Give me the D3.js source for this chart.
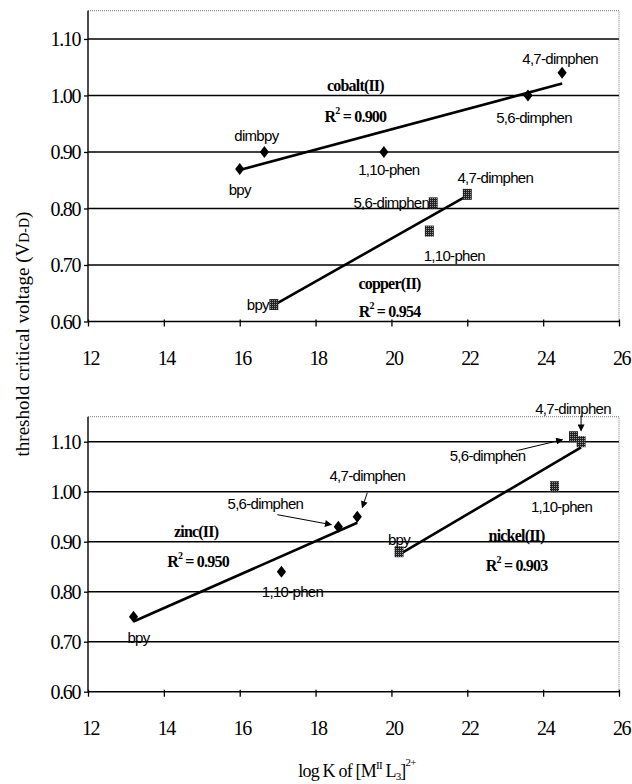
<!DOCTYPE html>
<html>
<head>
<meta charset="utf-8">
<script src="https://cdn.jsdelivr.net/npm/d3@7"></script>
<style>
  body { margin: 0; background: #fff; }
  svg { display: block; }
  .lbl { font-family: "Liberation Sans", Arial, sans-serif; font-size: 15px; letter-spacing: -0.7px; }
  .ser { font-family: "Liberation Serif", "Times New Roman", serif; font-weight: bold; font-size: 16px; letter-spacing: -0.8px; }
</style>
</head>
<body>
<div id="chart"></div>
<script>
// data
var xTicks = [12, 14, 16, 18, 20, 22, 24, 26];
var yTicks = [0.60, 0.70, 0.80, 0.90, 1.00, 1.10];

var cobaltLigands = ["bpy", "dimbpy", "1,10-phen", "5,6-dimphen", "4,7-dimphen"];
var cobaltLogK = [16.0, 16.65, 19.8, 23.6, 24.5];
var cobaltV = [0.87, 0.90, 0.90, 1.00, 1.04];

var copperLigands = ["bpy", "5,6-dimphen", "1,10-phen", "4,7-dimphen"];
var copperLogK = [16.9, 21.1, 21.0, 22.0];
var copperV = [0.63, 0.81, 0.76, 0.825];

var zincLigands = ["bpy", "1,10-phen", "5,6-dimphen", "4,7-dimphen"];
var zincLogK = [13.2, 17.1, 18.6, 19.1];
var zincV = [0.75, 0.84, 0.93, 0.95];

var nickelLigands = ["bpy", "1,10-phen", "5,6-dimphen", "4,7-dimphen"];
var nickelLogK = [20.2, 24.3, 24.8, 25.0];
var nickelV = [0.88, 1.01, 1.11, 1.10];

var seriesNames = ["cobalt(II)", "copper(II)", "zinc(II)", "nickel(II)"];
var rSquared = ["0.900", "0.954", "0.950", "0.903"];

// layout (pixel offsets of the labels, not data)
var labelPos = {
  "cobalt(II)": { name: [19.05, 91], r2: [19.05, 122],
    pts: { "bpy": [0, 26, "middle"], "dimbpy": [-8, -11, "middle"], "1,10-phen": [5, 23, "middle"],
           "5,6-dimphen": [6, 28, "middle"], "4,7-dimphen": [-2, -9, "middle"] } },
  "copper(II)": { name: [19.95, 289], r2: [19.95, 317],
    pts: { "bpy": [-5, 5, "end"], "5,6-dimphen": [-4, 5, "end"], "1,10-phen": [25, 30, "middle"],
           "4,7-dimphen": [28, -11, "middle"] } },
  "zinc(II)": { name: [14.85, 537], r2: [14.9, 567],
    pts: { "bpy": [5, 26, "middle"], "1,10-phen": [11, 25, "middle"], "5,6-dimphen": [-73, -18, "middle"],
           "4,7-dimphen": [10, -36, "middle"] },
    arrows: { "5,6-dimphen": [-61, -12, -7, -2], "4,7-dimphen": [10, -24, 5, -9] } },
  "nickel(II)": { name: [23.3, 541], r2: [23.3, 571],
    pts: { "bpy": [0, -7, "middle"], "1,10-phen": [7, 25, "middle"], "5,6-dimphen": [-86, 24, "middle"],
           "4,7-dimphen": [-8, -28, "middle"] },
    arrows: { "5,6-dimphen": [-57, 14, -11, 3], "4,7-dimphen": [0, -26, 0, -11] } }
};

var serif = "'Liberation Serif', 'Times New Roman', serif";
var W = 632, H = 784;
var svg = d3.select("#chart").append("svg").attr("width", W).attr("height", H);

var defs = svg.append("defs");
var pat = defs.append("pattern").attr("id", "dots").attr("width", 2).attr("height", 2)
  .attr("patternUnits", "userSpaceOnUse");
pat.append("rect").attr("width", 2).attr("height", 2).attr("fill", "#222");
pat.append("rect").attr("width", 1).attr("height", 1).attr("fill", "#999");
defs.append("marker").attr("id", "arrow").attr("viewBox", "0 0 10 10")
  .attr("refX", 9).attr("refY", 5).attr("markerWidth", 9).attr("markerHeight", 7)
  .attr("markerUnits", "userSpaceOnUse").attr("orient", "auto")
  .append("path").attr("d", "M0,0 L10,5 L0,10 Z").attr("fill", "#000");

var x = d3.scaleLinear().domain([12, 26]).range([88, 619]);

var panels = [
  { top: 10.7, bottom: 321.5, series: [
      { name: seriesNames[0], r2: rSquared[0], lig: cobaltLigands, k: cobaltLogK, v: cobaltV, shape: "diamond" },
      { name: seriesNames[1], r2: rSquared[1], lig: copperLigands, k: copperLogK, v: copperV, shape: "square" } ] },
  { top: 416.7, bottom: 691.7, series: [
      { name: seriesNames[2], r2: rSquared[2], lig: zincLigands, k: zincLogK, v: zincV, shape: "diamond" },
      { name: seriesNames[3], r2: rSquared[3], lig: nickelLigands, k: nickelLogK, v: nickelV, shape: "square" } ] }
];

function fit(k, v) {
  var mx = d3.mean(k), my = d3.mean(v);
  var sxy = d3.sum(k, function (d, i) { return (d - mx) * (v[i] - my); });
  var sxx = d3.sum(k, function (d) { return (d - mx) * (d - mx); });
  var b = sxy / sxx;
  return function (t) { return my + b * (t - mx); };
}

panels.forEach(function (p) {
  var y = d3.scaleLinear().domain([0.6, 1.15]).range([p.bottom, p.top]);
  var g = svg.append("g");

  // gridlines
  g.selectAll(".grid").data(yTicks.slice(1)).enter().append("line")
    .attr("x1", x(12)).attr("x2", x(26))
    .attr("y1", function (d) { return y(d); }).attr("y2", function (d) { return y(d); })
    .attr("stroke", "#000").attr("stroke-width", 1.4);

  // dotted frame top / right
  g.append("path")
    .attr("d", "M" + x(12) + "," + p.top + "H" + x(26) + "V" + p.bottom)
    .attr("fill", "none").attr("stroke", "#777").attr("stroke-width", 1)
    .attr("stroke-dasharray", "1,1");

  // y axis
  var ya = g.append("g").attr("transform", "translate(" + x(12) + ",0)")
    .call(d3.axisLeft(y).tickValues(yTicks).tickFormat(d3.format(".2f")).tickSize(4).tickPadding(4))
    .attr("font-family", serif);
  ya.select(".domain").attr("d", "M0," + p.top + "V" + p.bottom).attr("stroke", "#000").attr("stroke-width", 1.4);
  ya.selectAll(".tick line").attr("stroke", "#000").attr("stroke-width", 1.3);
  ya.selectAll(".tick text").attr("font-size", 20).attr("fill", "#000")
    .style("font-family", serif).style("letter-spacing", "-1.4px").attr("dy", "0.34em");

  // x axis
  var xa = g.append("g").attr("transform", "translate(0," + p.bottom + ")")
    .call(d3.axisBottom(x).tickValues(xTicks).tickSize(5).tickPadding(0))
    .attr("font-family", serif);
  xa.select(".domain").attr("d", "M" + x(12) + ",0H" + x(26)).attr("stroke", "#000").attr("stroke-width", 1.6);
  xa.selectAll(".tick line").attr("stroke", "#000").attr("stroke-width", 1.3).attr("y1", -2);
  xa.selectAll(".tick text").attr("font-size", 20).attr("fill", "#000")
    .style("font-family", serif).attr("y", 43).attr("dy", 0).attr("dx", 2).style("letter-spacing", "-1.4px");

  p.series.forEach(function (s) {
    var f = fit(s.k, s.v);
    var k0 = d3.min(s.k), k1 = d3.max(s.k);
    g.append("line")
      .attr("x1", x(k0)).attr("y1", y(f(k0)))
      .attr("x2", x(k1)).attr("y2", y(f(k1)))
      .attr("stroke", "#000").attr("stroke-width", 2.6);

    var pts = s.k.map(function (d, i) { return { k: d, v: s.v[i], lig: s.lig[i] }; });
    if (s.shape === "diamond") {
      g.selectAll(null).data(pts).enter().append("path")
        .attr("transform", function (d) { return "translate(" + x(d.k) + "," + y(d.v) + ")"; })
        .attr("d", "M0,-6L4.6,0L0,6L-4.6,0Z").attr("fill", "#000");
    } else {
      g.selectAll(null).data(pts).enter().append("rect")
        .attr("x", function (d) { return x(d.k) - 4.5; })
        .attr("y", function (d) { return y(d.v) - 5.5; })
        .attr("width", 9).attr("height", 11)
        .attr("fill", "url(#dots)");
    }

    var lp = labelPos[s.name];
    g.selectAll(null).data(pts).enter().append("text")
      .attr("class", "lbl")
      .attr("x", function (d) { return x(d.k) + lp.pts[d.lig][0]; })
      .attr("y", function (d) { return y(d.v) + lp.pts[d.lig][1]; })
      .attr("text-anchor", function (d) { return lp.pts[d.lig][2]; })
      .text(function (d) { return d.lig; });

    if (lp.arrows) {
      pts.filter(function (d) { return lp.arrows[d.lig]; }).forEach(function (d) {
        var a = lp.arrows[d.lig];
        g.append("line")
          .attr("x1", x(d.k) + a[0]).attr("y1", y(d.v) + a[1])
          .attr("x2", x(d.k) + a[2]).attr("y2", y(d.v) + a[3])
          .attr("stroke", "#000").attr("stroke-width", 1)
          .attr("marker-end", "url(#arrow)");
      });
    }

    g.append("text").attr("class", "ser").attr("text-anchor", "middle")
      .attr("x", x(lp.name[0])).attr("y", lp.name[1]).text(s.name);

    var r = g.append("text").attr("class", "ser").attr("text-anchor", "middle")
      .attr("x", x(lp.r2[0])).attr("y", lp.r2[1]);
    r.append("tspan").text("R");
    r.append("tspan").attr("font-size", 10).attr("dy", -8).text("2");
    r.append("tspan").attr("dy", 8).text(" = " + s.r2);
  });
});

// axis titles
var yt = svg.append("text")
  .attr("transform", "translate(29,334) rotate(-90)")
  .attr("text-anchor", "middle")
  .style("font-family", serif)
  .style("font-size", "19px");
yt.append("tspan").text("threshold critical voltage (V");
yt.append("tspan").style("font-size", "14px").text("D-D");
yt.append("tspan").text(")");

var xt = svg.append("text")
  .attr("x", 357).attr("y", 777)
  .attr("text-anchor", "middle")
  .style("font-family", serif)
  .style("font-size", "18px").style("letter-spacing", "-0.8px");
xt.append("tspan").text("log K of [M");
xt.append("tspan").attr("font-size", 11).attr("dy", -8).text("II");
xt.append("tspan").attr("dy", 8).text(" L");
xt.append("tspan").attr("font-size", 11).attr("dy", 3).text("3");
xt.append("tspan").attr("dy", -3).text("]");
xt.append("tspan").attr("font-size", 11).attr("dy", -11).text("2+");
</script>
</body>
</html>
